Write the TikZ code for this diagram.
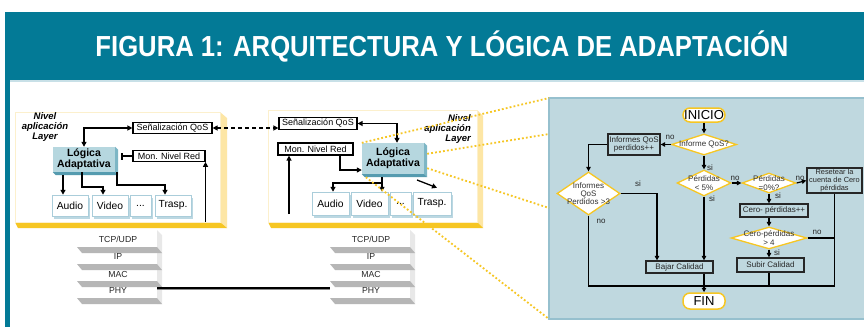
\documentclass[tikz,border=0pt]{standalone}
\usepackage{fontspec}
\setmainfont{Liberation Sans}
\usepackage{graphicx}
\usetikzlibrary{arrows.meta,shapes.geometric,shadows,calc}
\definecolor{titleteal}{RGB}{3,122,150}
\definecolor{underline}{RGB}{200,224,231}
\definecolor{panelblue}{RGB}{191,216,223}
\definecolor{panelborder}{RGB}{150,192,206}
\definecolor{gold}{RGB}{246,198,35}
\definecolor{paleyellow}{RGB}{253,230,165}
\definecolor{faceline}{RGB}{252,240,205}
\definecolor{logicfill}{RGB}{182,215,223}
\definecolor{logicside}{RGB}{125,182,197}
\definecolor{logicbottom}{RGB}{85,155,175}
\definecolor{boxshade}{RGB}{188,216,226}
\definecolor{boxborder}{RGB}{170,205,218}
\definecolor{stackgray}{RGB}{182,182,182}
\definecolor{stackside}{RGB}{232,232,232}
\definecolor{cablegray}{RGB}{140,140,140}
\tikzset{
 ar/.style={line width=1.3pt,-{Triangle[length=5pt,width=5pt]}},
 arr2/.style={line width=1.3pt,{Triangle[length=5pt,width=5pt]}-{Triangle[length=5pt,width=5pt]}},
 dsh/.style={line width=1.4pt,dash pattern=on 4pt off 3pt,{Triangle[length=5pt,width=5pt]}-{Triangle[length=5pt,width=5pt]}},
 lbox/.style={draw=black,line width=1.2pt,fill=white,inner sep=0pt,font=\fontsize{9}{9}\selectfont},
 logic/.style={fill=logicfill,inner sep=0pt,align=center,font=\bfseries\fontsize{10.5}{11}\selectfont},
 mbox/.style={fill=white,draw=boxborder,line width=0.5pt,inner sep=0pt,font=\fontsize{10.3}{10.3}\selectfont,
   drop shadow={shadow xshift=2pt,shadow yshift=-3pt,fill=boxshade,opacity=1}},
 nivel/.style={font=\bfseries\itshape\fontsize{9.5}{10}\selectfont,inner sep=0pt},
 stacktxt/.style={font=\fontsize{8.7}{8.7}\selectfont,inner sep=0pt,text=black!85},
 fdia/.style={diamond,draw=gold,line width=1.3pt,fill=white,inner sep=0pt},
 ftxt/.style={font=\fontsize{8}{8.3}\selectfont,align=center,inner sep=0pt,text=black!80},
 fbox/.style={draw=black!85,line width=1.3pt,inner sep=0pt,align=center,font=\fontsize{8}{8}\selectfont,text=black!85},
 fterm/.style={draw=gold,line width=1.5pt,fill=white,rounded corners=7pt,inner sep=0pt,font=\fontsize{13}{13}\selectfont},
 flbl/.style={font=\fontsize{8}{8}\selectfont,inner sep=0pt,text=black!85},
 far/.style={line width=1.2pt,-{Triangle[length=4.5pt,width=4.5pt]}},
 fln/.style={line width=1.2pt},
 dotl/.style={draw=gold,line width=1.8pt,dash pattern=on 1.8pt off 2.2pt},
 protostack/.pic={
  \fill[stackside] (80,1) -- (85,6) -- (85,75) -- (80,75) -- cycle;
  \fill[white] (0,0) rectangle (80,69);
  \foreach \yy in {18,35,52,69}{\fill[stackgray] (0,\yy) -- (80,\yy) -- (85,\yy+6) -- (5,\yy+6) -- cycle;}
  \node[stacktxt] (-l1) at (41,10) {TCP/UDP};
  \node[stacktxt] (-l2) at (41,28) {IP};
  \node[stacktxt] (-l3) at (41,45) {MAC};
  \node[stacktxt] (-l4) at (41,62) {PHY};
 },
}
\begin{document}
\begin{tikzpicture}[x=1pt,y=-1pt]
\useasboundingbox (0,0) rectangle (864,327);
\fill[white] (0,0) rectangle (864,327);
% title
\fill[titleteal] (5,12) rectangle (864,80);
\fill[titleteal] (5,80) rectangle (9.5,327);
\fill[underline] (9.5,80) rectangle (864,82);
\node[text=white,anchor=base,inner sep=0pt] (title) at (442,56)
  {\resizebox{693pt}{\height}{\bfseries\fontsize{29}{29}\selectfont FIGURA 1: ARQUITECTURA Y LÓGICA DE ADAPTACIÓN}};
% slabs
\fill[paleyellow] (220,112) -- (227,118) -- (227,228) -- (220,222) -- cycle;
\fill[gold] (15,222) -- (220,222) -- (227,228) -- (18,228) -- cycle;
\filldraw[fill=white,draw=faceline,line width=0.6pt] (15,112) rectangle (220,222);
\fill[paleyellow] (477,110) -- (483,116) -- (483,228) -- (477,222) -- cycle;
\fill[gold] (268,222) -- (477,222) -- (483,228) -- (271,228) -- cycle;
\filldraw[fill=white,draw=faceline,line width=0.6pt] (268,110) rectangle (477,222);
% stacks
\pic (stL) at (77,229) {protostack};
\pic (stR) at (330,229) {protostack};
\coordinate (phyL) at (157,288);
\coordinate (phyR) at (330,288);
\draw[cablegray,line width=1.2pt] ($(phyL)+(0,1.6)$) -- ($(phyR)+(0,1.6)$);
\draw[black,line width=1.5pt] (phyL) -- (phyR);
% left panel
\node[nivel,align=center] (nivL) at (45,127) {Nivel\\aplicación\\Layer};
\node[lbox,minimum width=79,minimum height=11] (sigL) at (172.5,128) {Señalización QoS};
\node[lbox,minimum width=72,minimum height=10.5] (monL) at (169,156) {Mon. Nivel Red};
\node[logic,minimum width=62,minimum height=25] (logL) at (84,159.5) {Lógica\\Adaptativa};
\fill[logicside] (logL.north east) -- ++(3,3) -- ($(logL.south east)+(3,3)$) -- (logL.south east) -- cycle;
\fill[logicbottom] (logL.south west) -- (logL.south east) -- ($(logL.south east)+(3,3)$) -- ($(logL.south west)+(3,3)$) -- cycle;
\node[mbox,minimum width=36,minimum height=21] (audL) at (70,205.5) {Audio};
\node[mbox,minimum width=36,minimum height=21] (vidL) at (110,205.5) {Video};
\node[mbox,minimum width=21,minimum height=21] (dotL) at (140.5,205.5) {...};
\node[mbox,minimum width=36,minimum height=21] (traL) at (173,205.5) {Trasp.};
\draw[arr2] (sigL.west) -| (logL.north);
\draw[{Bar[width=7pt]}-,line width=1.3pt] ($(logL.east |- monL.west)+(6,0)$) -- (monL.west);
\coordinate (baseL) at (205.5,222);
\draw[ar] (baseL) -- (baseL |- monL.south);
\draw[ar] ($(logL.south)+(-21,3)$) -- ($(audL.north)+(-7,0)$);
\coordinate (v1) at (82,187);
\draw[ar] (logL.south -| v1) -- (v1) -| ($(vidL.north)+(-7,0)$);
\coordinate (t1) at (117,185);
\draw[ar] (logL.south -| t1) -- (t1) -| ($(traL.north)+(-8,0)$);
% right panel
\node[nivel,align=right,anchor=east] (nivR) at (471,129) {Nivel\\aplicación\\Layer};
\node[lbox,minimum width=78,minimum height=11.5] (sigR) at (318,123.5) {Señalización QoS};
\node[lbox,minimum width=75,minimum height=12] (monR) at (315.5,149) {Mon. Nivel Red};
\node[logic,minimum width=62,minimum height=31] (logR) at (393,158.5) {Lógica\\Adaptativa};
\fill[logicside] (logR.north east) -- ++(3,3) -- ($(logR.south east)+(3,3)$) -- (logR.south east) -- cycle;
\fill[logicbottom] (logR.south west) -- (logR.south east) -- ($(logR.south east)+(3,3)$) -- ($(logR.south west)+(3,3)$) -- cycle;
\node[mbox,minimum width=37,minimum height=23] (audR) at (330.5,203.5) {Audio};
\node[mbox,minimum width=37,minimum height=23] (vidR) at (369.5,203.5) {Video};
\node[mbox,minimum width=21,minimum height=23] (dotR) at (400.5,203.5) {...};
\node[mbox,minimum width=38,minimum height=23] (traR) at (432,203.5) {Trasp.};
\draw[dsh] (sigL.east) -- (sigL.east -| sigR.west);
\draw[arr2] (sigR.east) -| ($(logR.north)+(4,0)$);
\coordinate (baseR) at (289,214);
\draw[ar] (baseR) -- (baseR |- monR.south);
\coordinate (m1) at (340,170);
\draw[ar] (monR.south -| m1) -- (m1) -- (m1 -| logR.west);
\coordinate (r1) at (382,183);
\draw[ar] ($(logR.south -| r1)+(0,3)$) -- (r1 |- vidR.north);
\draw[ar] (r1) -| ($(audR.north)+(2.5,0)$);
\coordinate (tr0) at (417,180);
\draw[ar] (tr0) -- ($(traR.north)+(5,-4)$);
% flowchart panel
\fill[panelblue] (549,98) rectangle (866,319);
\draw[panelborder,line width=1.5pt] (866,98) -- (549,98) -- (549,319) -- (866,319);
\coordinate (pTL) at (549,98);
\coordinate (pBL) at (549,319);
\coordinate (pL1) at (549,134);
\coordinate (pL2) at (549,208);
\node[fterm,minimum width=42,minimum height=14] (ini) at (704,115) {INICIO};
\node[fdia,minimum width=65,minimum height=21,label={[ftxt]center:{Informe QoS?}}] (d1) at (704,144.5) {};
\node[fbox,minimum width=52,minimum height=21] (bInf) at (634,144.5) {Informes QoS\\perdidos++};
\node[fdia,minimum width=63,minimum height=43,label={[ftxt]center:{Informes\\QoS\\Perdidos >3}}] (d2) at (588.5,193.5) {};
\node[fdia,minimum width=54,minimum height=26,label={[ftxt]center:{Pérdidas\\< 5\%}}] (d3) at (704,183) {};
\node[fdia,minimum width=54,minimum height=20,label={[ftxt]center:{Pérdidas\\=0\%?}}] (d4) at (769,183) {};
\node[fbox,minimum width=55,minimum height=25,font=\fontsize{7.4}{7.6}\selectfont] (bRes) at (834.5,180.5) {Resetear la\\cuenta de Cero\\pérdidas};
\node[fbox,minimum width=68,minimum height=13] (bCero) at (774,210.5) {Cero- pérdidas++};
\node[fdia,minimum width=76,minimum height=22,label={[ftxt]center:{Cero-pérdidas\\> 4}}] (d5) at (769,238) {};
\node[fbox,minimum width=67,minimum height=14] (bSub) at (770.5,265) {Subir Calidad};
\node[fbox,minimum width=67,minimum height=12] (bBaj) at (679.5,267) {Bajar Calidad};
\node[fterm,minimum width=42,minimum height=16] (fin) at (704,301) {FIN};
\coordinate (busR) at (834.5,286);
\draw[far] (ini.south) -- (d1.north);
\draw[far] (d1.west) -- (bInf.east);
\node[flbl] (lno1) at (670,137) {no};
\draw[far] (bInf.west) -| (d2.north);
\draw[far] (d2.east) -| ($(bBaj.north)+(-22.5,0)$);
\node[flbl] (lsi1) at (638,184) {si};
\draw[fln] (d2.south) |- (busR);
\node[flbl] (lno2) at (601,221) {no};
\draw[far] (d1.south) -- (d3.north);
\node[flbl] (lsi2) at (710,168) {si};
\draw[far] (d3.east) -- (d4.west);
\node[flbl] (lno3) at (735,178) {no};
\draw[far] (d4.east) -- (bRes.west);
\node[flbl] (lno4) at (800,178) {no};
\draw[far] (d4.south) -- (d4.south |- bCero.north);
\node[flbl] (lsi3) at (778,196) {si};
\draw[far] (bCero.south -| d5.north) -- (d5.north);
\draw[far] (d5.south) -- (d5.south |- bSub.north);
\node[flbl] (lsi4) at (777,253) {si};
\draw[fln] (d5.east) -- (d5.east -| busR);
\node[flbl] (lno5) at (817,232) {no};
\draw[fln] (bRes.south) -- (busR);
\draw[fln] (bSub.south -| d5.south) -- (d5.south |- busR);
\draw[far] (d3.south) -- (d3.south |- bBaj.north);
\node[flbl] (lsi5) at (712,199) {si};
\draw[far] (d3.south |- bBaj.south) -- (fin.north);
% dotted connectors
\draw[dotl] (logR.north west) -- (pTL);
\draw[dotl] ($(logR.north east)+(3,11)$) -- (pL1);
\draw[dotl] ($(logR.south east)+(3,-6)$) -- (pL2);
\draw[dotl] ($(logR.south west)+(4,3)$) -- (pBL);
\end{tikzpicture}
\end{document}
